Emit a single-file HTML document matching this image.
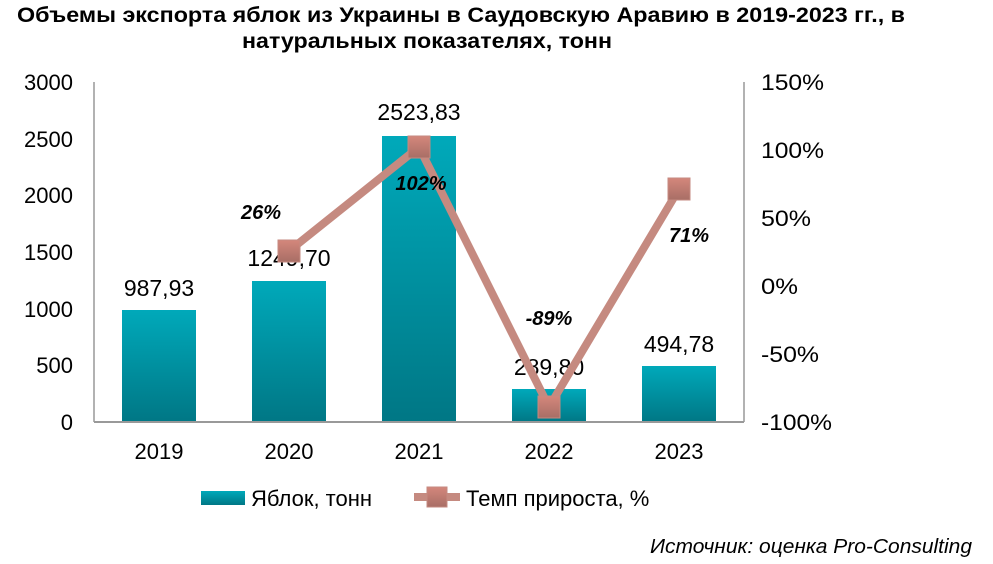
<!DOCTYPE html>
<html><head><meta charset="utf-8"><style>
body{margin:0;background:#fff;}
svg{display:block;font-family:"Liberation Sans",Arial,sans-serif;}
</style></head><body>
<svg width="993" height="564" viewBox="0 0 993 564" xmlns="http://www.w3.org/2000/svg">
<defs>
<linearGradient id="g" x1="0" y1="0" x2="0" y2="1">
<stop offset="0" stop-color="#00a9ba"/><stop offset="1" stop-color="#007785"/>
</linearGradient>
<linearGradient id="m" x1="0" y1="0" x2="0" y2="1">
<stop offset="0" stop-color="#d4877c"/><stop offset="1" stop-color="#a86e66"/>
</linearGradient>
</defs>
<text x="17" y="22" font-size="21" font-weight="bold" textLength="888" lengthAdjust="spacingAndGlyphs">Объемы экспорта яблок из Украины в Саудовскую Аравию в 2019-2023 гг., в</text>
<text x="242" y="48" font-size="21" font-weight="bold" textLength="370" lengthAdjust="spacingAndGlyphs">натуральных показателях, тонн</text>
<g font-size="22" text-anchor="end">
<text x="73" y="90">3000</text><text x="73" y="147">2500</text><text x="73" y="203">2000</text>
<text x="73" y="260">1500</text><text x="73" y="317">1000</text><text x="73" y="373">500</text><text x="73" y="430">0</text>
</g>
<g font-size="22" text-anchor="start">
<text x="761" y="90" textLength="63" lengthAdjust="spacingAndGlyphs">150%</text>
<text x="761" y="158" textLength="63" lengthAdjust="spacingAndGlyphs">100%</text>
<text x="761" y="226" textLength="50" lengthAdjust="spacingAndGlyphs">50%</text>
<text x="761" y="294" textLength="37" lengthAdjust="spacingAndGlyphs">0%</text>
<text x="761" y="362" textLength="58" lengthAdjust="spacingAndGlyphs">-50%</text>
<text x="761" y="430" textLength="71" lengthAdjust="spacingAndGlyphs">-100%</text>
</g>
<line x1="94" y1="82" x2="94" y2="422" stroke="#999" stroke-width="1.5"/>
<line x1="744" y1="82" x2="744" y2="422" stroke="#999" stroke-width="1.5"/>
<g fill="url(#g)">
<rect x="122" y="310" width="74" height="112"/>
<rect x="252" y="281" width="74" height="141"/>
<rect x="382" y="136" width="74" height="286"/>
<rect x="512" y="389" width="74" height="33"/>
<rect x="642" y="366" width="74" height="56"/>
</g>
<line x1="94" y1="422" x2="744" y2="422" stroke="#999" stroke-width="2"/>
<g font-size="23" text-anchor="middle">
<text x="159" y="296">987,93</text><text x="289" y="266">1249,70</text><text x="419" y="120">2523,83</text>
<text x="549" y="375">289,80</text><text x="679" y="352">494,78</text>
</g>
<g font-size="22" text-anchor="middle">
<text x="159" y="459">2019</text><text x="289" y="459">2020</text><text x="419" y="459">2021</text>
<text x="549" y="459">2022</text><text x="679" y="459">2023</text>
</g>
<polyline points="289,251 419,147 549,407 679,189" fill="none" stroke="#c58a80" stroke-width="8" stroke-linejoin="round"/>
<g fill="url(#m)" stroke="#c58a80" stroke-width="1">
<rect x="278" y="240" width="22" height="22"/><rect x="408" y="136" width="22" height="22"/>
<rect x="538" y="396" width="22" height="22"/><rect x="668" y="178" width="22" height="22"/>
</g>
<g font-size="20" font-weight="bold" font-style="italic" text-anchor="middle">
<text x="261" y="219">26%</text><text x="421" y="190">102%</text><text x="549" y="325">-89%</text><text x="689" y="242">71%</text>
</g>
<rect x="201" y="491" width="44" height="14" fill="url(#g)"/>
<text x="251" y="506" font-size="22">Яблок, тонн</text>
<line x1="414" y1="497" x2="460" y2="497" stroke="#c58a80" stroke-width="8"/>
<rect x="427" y="487" width="20" height="20" fill="url(#m)" stroke="#c58a80"/>
<text x="466" y="506" font-size="22">Темп прироста, %</text>
<text x="972" y="553" text-anchor="end" font-size="20" font-style="italic" textLength="322" lengthAdjust="spacingAndGlyphs">Источник: оценка Pro-Consulting</text>
</svg>
</body></html>
